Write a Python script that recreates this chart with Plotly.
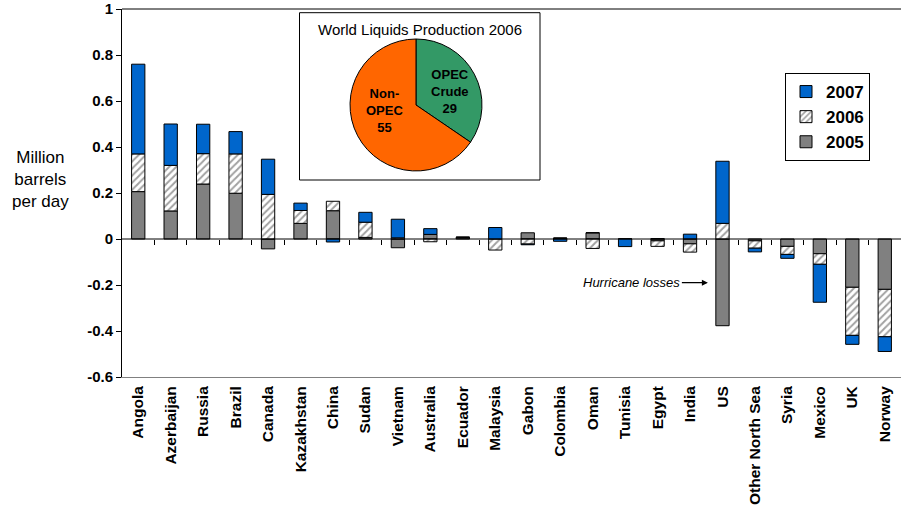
import plotly.graph_objects as go

countries = ["Angola", "Azerbaijan", "Russia", "Brazil", "Canada", "Kazakhstan", "China",
             "Sudan", "Vietnam", "Australia", "Ecuador", "Malaysia", "Gabon", "Colombia",
             "Oman", "Tunisia", "Egypt", "India", "US", "Other North Sea", "Syria",
             "Mexico", "UK", "Norway"]
v2005 = [0.206, 0.122, 0.239, 0.199, -0.043, 0.068, 0.123, 0.007, -0.038, 0.020, 0.005, 0.0,
         0.027, 0.004, 0.027, 0.0, -0.008, -0.021, -0.377, -0.008, -0.032, -0.064, -0.210, -0.219]
v2006 = [0.164, 0.198, 0.132, 0.171, 0.194, 0.056, 0.041, 0.066, 0.005, -0.012, 0.003, -0.048,
         -0.022, 0.0, -0.041, 0.0, -0.024, -0.036, 0.068, -0.032, -0.035, -0.046, -0.209, -0.206]
v2007 = [0.390, 0.180, 0.128, 0.097, 0.153, 0.032, -0.013, 0.043, 0.081, 0.025, 0.0, 0.050,
         -0.003, -0.010, 0.0, -0.033, 0.002, 0.021, 0.270, -0.016, -0.017, -0.165, -0.039, -0.064]

pie_labels = ["OPEC<br>Crude", "Non-<br>OPEC"]
pie_values = [29, 55]
pie_title = "World Liquids Production 2006"
y_ticks = [-0.6, -0.4, -0.2, 0, 0.2, 0.4, 0.6, 0.8, 1]
y_ticktext = ["-0.6", "-0.4", "-0.2", "0", "0.2", "0.4", "0.6", "0.8", "1"]

FONT = "Arial, Liberation Sans, sans-serif"
BLUE = "#0066CC"
GRAY = "#808080"
line = dict(color="black", width=1)

fig = go.Figure()
fig.add_trace(go.Bar(x=countries, y=v2005, name="2005",
                     marker=dict(color=GRAY, line=line)))
fig.add_trace(go.Bar(x=countries, y=v2006, name="2006",
                     marker=dict(color="white", line=line,
                                 pattern=dict(shape="/", fgcolor="#444444", bgcolor="white",
                                              size=5, solidity=0.4))))
fig.add_trace(go.Bar(x=countries, y=v2007, name="2007",
                     marker=dict(color=BLUE, line=line)))

# zero line with tick marks (helper axis)
fig.add_trace(go.Scatter(x=[-0.5, len(countries) - 0.5], y=[0, 0], xaxis="x2", mode="lines",
                         line=dict(color="black", width=1), showlegend=False, hoverinfo="skip"))

# inset pie
fig.add_trace(go.Pie(labels=pie_labels, values=pie_values, sort=False, direction="clockwise",
                     rotation=0, textinfo="none", showlegend=False,
                     marker=dict(colors=["#339966", "#FF6600"], line=dict(color="black", width=1)),
                     domain=dict(x=[0.2927, 0.4621], y=[0.5598, 0.9185])))

L, R, T, B = 122, 0, 9, 137
W, H = 901, 514
pw, ph = W - L - R, H - T - B

def px(xp):
    return (xp - L) / pw

def py(yp):
    return (H - B - yp) / ph

fig.update_layout(
    width=W, height=H, margin=dict(l=L, r=R, t=T, b=B),
    paper_bgcolor="white", plot_bgcolor="white",
    barmode="relative", bargap=0.59,
    font=dict(family=FONT, color="black"),
    xaxis=dict(type="category", showgrid=False, zeroline=False, showline=True,
               linecolor="#808080", linewidth=1, ticks="", tickangle=-90,
               ticklabelstandoff=2,
               tickfont=dict(family=FONT, size=15.5, color="black", weight="bold")),
    xaxis2=dict(overlaying="x", anchor="free", position=0.375, range=[-0.5, len(countries) - 0.5],
                showgrid=False, zeroline=False, showline=False, ticks="outside", ticklen=5,
                tickcolor="black", tickvals=[i + 0.5 for i in range(len(countries) - 1)],
                showticklabels=False),
    yaxis=dict(range=[-0.6, 1], tickvals=y_ticks, ticktext=y_ticktext, showgrid=False,
               zeroline=False, showline=True, linecolor="black", linewidth=1,
               ticks="outside", ticklen=5, tickcolor="black",
               tickfont=dict(family=FONT, size=15, color="black", weight="bold")),
    legend=dict(x=px(785), y=py(73), xanchor="left", yanchor="top", traceorder="reversed",
                bgcolor="white", bordercolor="black", borderwidth=1,
                font=dict(family=FONT, size=17, color="black", weight="bold"),
                tracegroupgap=2, itemwidth=30),
    shapes=[
        dict(type="line", xref="paper", yref="paper", x0=0, x1=1, y0=1, y1=1,
             line=dict(color="black", width=1)),
        dict(type="rect", xref="paper", yref="paper", x0=px(299.5), x1=px(540),
             y0=py(180), y1=py(12.7), line=dict(color="black", width=1),
             fillcolor="white", layer="below"),
    ],
    annotations=[
        dict(text="Million<br>barrels<br>per day", xref="paper", yref="paper",
             x=px(40), y=py(179), xanchor="center", yanchor="middle", showarrow=False,
             font=dict(family=FONT, size=17)),
        dict(text=pie_title, xref="paper", yref="paper", x=px(420), y=py(29),
             xanchor="center", yanchor="middle", showarrow=False,
             font=dict(family=FONT, size=15)),
        dict(text=f"<b>{pie_labels[0]}<br>{pie_values[0]}</b>", xref="paper", yref="paper",
             x=px(450), y=py(92), xanchor="center", yanchor="middle", showarrow=False,
             font=dict(family=FONT, size=13)),
        dict(text=f"<b>{pie_labels[1]}<br>{pie_values[1]}</b>", xref="paper", yref="paper",
             x=px(384), y=py(110), xanchor="center", yanchor="middle", showarrow=False,
             font=dict(family=FONT, size=13)),
        dict(text="<i>Hurricane losses</i>", xref="x", yref="y", x=17.55, y=-0.19,
             ax=-26, ay=0, xanchor="right", showarrow=True, arrowhead=2, arrowsize=1,
             arrowwidth=1.2, arrowcolor="black", font=dict(family=FONT, size=13)),
    ],
)

fig.write_html("out.html", config={"displayModeBar": False},
               post_script="document.body.style.margin='0px';")
